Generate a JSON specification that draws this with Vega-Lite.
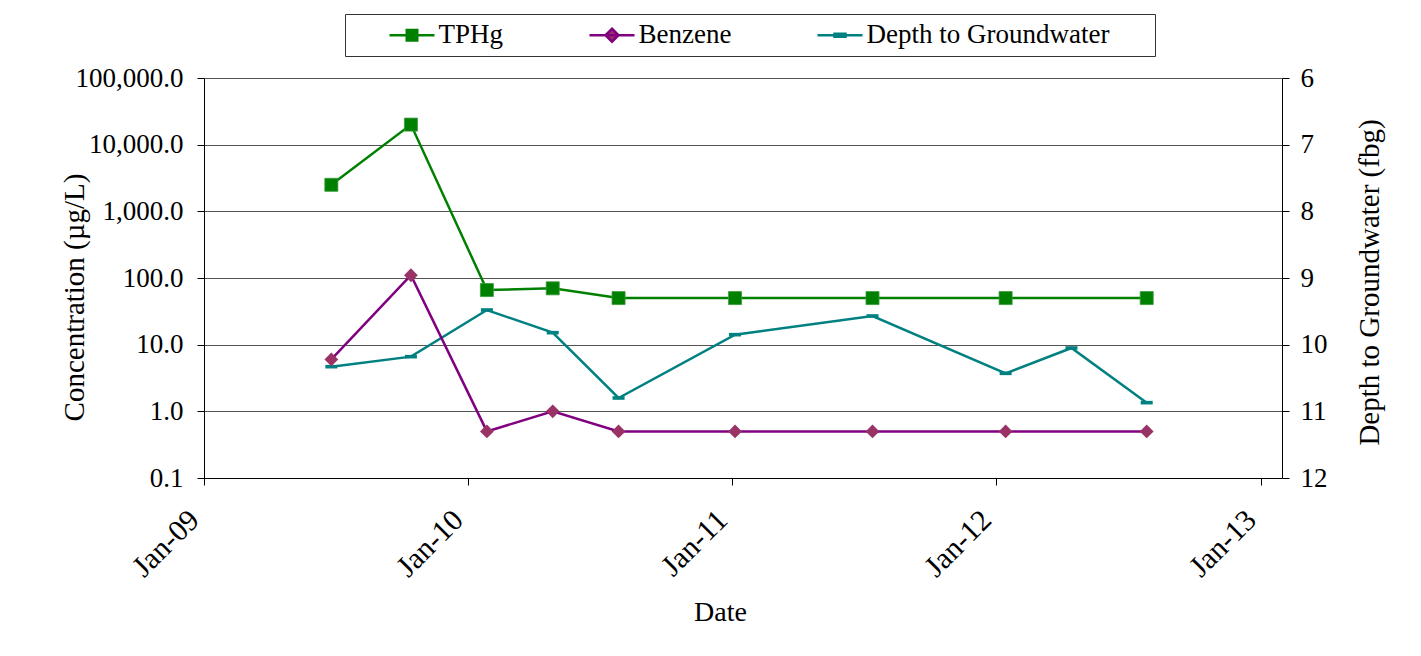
{
  "$schema": "https://vega.github.io/schema/vega-lite/v6.json",
  "width": 1078,
  "height": 400,
  "autosize": "none",
  "padding": {"left": 204, "top": 78, "right": 139, "bottom": 178},
  "background": "white",
  "config": {
    "font": "Liberation Serif",
    "view": {"stroke": null},
    "axis": {
      "domainColor": "#000000",
      "domainWidth": 1,
      "tickColor": "#000000",
      "tickSize": 7,
      "labelColor": "#000000",
      "titleColor": "#000000",
      "titleFontWeight": "normal",
      "labelFont": "Liberation Serif",
      "titleFont": "Liberation Serif"
    }
  },
  "data": {
    "values": [
      {"date": "2009-06-26", "series": "TPHg", "value": 2500},
      {"date": "2009-10-14", "series": "TPHg", "value": 20000},
      {"date": "2010-01-27", "series": "TPHg", "value": 66},
      {"date": "2010-04-28", "series": "TPHg", "value": 70},
      {"date": "2010-07-28", "series": "TPHg", "value": 50},
      {"date": "2011-01-05", "series": "TPHg", "value": 50},
      {"date": "2011-07-14", "series": "TPHg", "value": 50},
      {"date": "2012-01-14", "series": "TPHg", "value": 50},
      {"date": "2012-07-27", "series": "TPHg", "value": 50},
      {"date": "2009-06-26", "series": "Benzene", "value": 6},
      {"date": "2009-10-14", "series": "Benzene", "value": 110},
      {"date": "2010-01-27", "series": "Benzene", "value": 0.5},
      {"date": "2010-04-28", "series": "Benzene", "value": 1},
      {"date": "2010-07-28", "series": "Benzene", "value": 0.5},
      {"date": "2011-01-05", "series": "Benzene", "value": 0.5},
      {"date": "2011-07-14", "series": "Benzene", "value": 0.5},
      {"date": "2012-01-14", "series": "Benzene", "value": 0.5},
      {"date": "2012-07-27", "series": "Benzene", "value": 0.5},
      {"date": "2009-06-26", "series": "Depth to Groundwater", "value": 10.33},
      {"date": "2009-10-14", "series": "Depth to Groundwater", "value": 10.18},
      {"date": "2010-01-27", "series": "Depth to Groundwater", "value": 9.48},
      {"date": "2010-04-28", "series": "Depth to Groundwater", "value": 9.82},
      {"date": "2010-07-28", "series": "Depth to Groundwater", "value": 10.8},
      {"date": "2011-01-05", "series": "Depth to Groundwater", "value": 9.85},
      {"date": "2011-07-14", "series": "Depth to Groundwater", "value": 9.57},
      {"date": "2012-01-14", "series": "Depth to Groundwater", "value": 10.43},
      {"date": "2012-04-14", "series": "Depth to Groundwater", "value": 10.05},
      {"date": "2012-07-27", "series": "Depth to Groundwater", "value": 10.87}
    ]
  },
  "encoding": {
    "x": {
      "field": "date",
      "type": "temporal",
      "title": "Date",
      "scale": {
        "type": "utc",
        "domain": [
          {"year": 2009, "month": 1, "date": 1, "utc": true},
          {"year": 2013, "month": 1, "date": 30, "utc": true}
        ]
      },
      "axis": {
        "values": [
          {"year": 2009, "month": 1, "date": 1, "utc": true},
          {"year": 2010, "month": 1, "date": 1, "utc": true},
          {"year": 2011, "month": 1, "date": 1, "utc": true},
          {"year": 2012, "month": 1, "date": 1, "utc": true},
          {"year": 2013, "month": 1, "date": 1, "utc": true}
        ],
        "labelExpr": "utcFormat(datum.value, '%b-%y')",
        "grid": false,
        "labelAngle": -45,
        "labelAlign": "right",
        "labelBaseline": "middle",
        "labelFontSize": 30,
        "labelPadding": 30,
        "labelOffset": -10,
        "labelOverlap": false,
        "titleFontSize": 28,
        "titleX": 516,
        "titleY": 142,
        "titleBaseline": "alphabetic",
        "titleAlign": "center"
      }
    }
  },
  "layer": [
    {
      "encoding": {
        "y": {
          "field": "value",
          "type": "quantitative",
          "title": "Depth to Groundwater (fbg)",
          "scale": {"domain": [6, 12], "reverse": true, "zero": false, "nice": false},
          "axis": {
            "orient": "right",
            "values": [6, 7, 8, 9, 10, 11, 12],
            "format": "d",
            "grid": false,
            "labelFontSize": 27,
            "labelPadding": 11,
            "titleFontSize": 29,
            "titleAngle": 270,
            "titleX": 96,
            "titleY": 204,
            "titleAlign": "center",
            "titleBaseline": "alphabetic"
          }
        }
      },
      "transform": [{"filter": "datum.series === 'Depth to Groundwater'"}],
      "layer": [
        {
          "mark": {"type": "line", "color": "#008080", "strokeWidth": 2.5}
        },
        {
          "mark": {
            "type": "point",
            "shape": "M-1,-0.3H1V0.3H-1Z",
            "size": 144,
            "filled": true,
            "color": "#008080",
            "opacity": 1
          }
        }
      ]
    },
    {
      "encoding": {
        "y": {
          "field": "value",
          "type": "quantitative",
          "title": "Concentration (µg/L)",
          "scale": {"type": "log", "domain": [0.1, 100000], "nice": false},
          "axis": {
            "orient": "left",
            "values": [0.1, 1, 10, 100, 1000, 10000, 100000],
            "format": ",.1f",
            "grid": true,
            "gridColor": "#555555",
            "gridWidth": 1,
            "labelFontSize": 27,
            "labelPadding": 14,
            "titleFontSize": 29,
            "titleAngle": 270,
            "titleX": -121,
            "titleY": 219,
            "titleAlign": "center",
            "titleBaseline": "alphabetic"
          }
        }
      },
      "layer": [
        {
          "transform": [{"filter": "datum.series === 'Benzene'"}],
          "mark": {"type": "line", "color": "#800080", "strokeWidth": 2.5}
        },
        {
          "transform": [{"filter": "datum.series === 'Benzene'"}],
          "mark": {
            "type": "point",
            "shape": "diamond",
            "size": 190,
            "filled": true,
            "color": "#993366",
            "opacity": 1
          }
        },
        {
          "transform": [{"filter": "datum.series === 'TPHg'"}],
          "mark": {"type": "line", "color": "#008000", "strokeWidth": 2.5}
        },
        {
          "transform": [{"filter": "datum.series === 'TPHg'"}],
          "mark": {
            "type": "square",
            "size": 170,
            "color": "#008000",
            "stroke": "#3a9a3a",
            "strokeWidth": 0.8,
            "opacity": 1
          }
        },
        {
          "mark": {"type": "point", "filled": true, "opacity": 0, "strokeWidth": 2.5},
          "encoding": {
            "fill": {
              "field": "series",
              "type": "nominal",
              "scale": {
                "domain": ["TPHg", "Benzene", "Depth to Groundwater"],
                "range": ["#008000", "#993366", "#008080"]
              },
              "legend": null
            },
            "stroke": {
              "field": "series",
              "type": "nominal",
              "scale": {
                "domain": ["TPHg", "Benzene", "Depth to Groundwater"],
                "range": ["#008000", "#800080", "#008080"]
              },
              "legend": null
            },
            "shape": {
              "field": "series",
              "type": "nominal",
              "scale": {
                "domain": ["TPHg", "Benzene", "Depth to Groundwater"],
                "range": [
                  "M-4.5,0H4.5M-1.05,-1.05H1.05V1.05H-1.05Z",
                  "M-4.5,0H4.5M0,-1.3L1.3,0L0,1.3L-1.3,0Z",
                  "M60.4,0M-4.5,0H4.5M-1.1,-0.28H1.1V0.28H-1.1Z"
                ]
              },
              "legend": {
                "title": null,
                "orient": "none",
                "legendX": 141,
                "legendY": -64,
                "direction": "horizontal",
                "columns": 3,
                "symbolSize": 100,
                "symbolOpacity": 1,
                "symbolStrokeWidth": 2.5,
                "symbolOffset": 46,
                "labelFont": "Liberation Serif",
                "labelFontSize": 27,
                "labelColor": "#000000",
                "labelOffset": 13,
                "labelLimit": 400,
                "columnPadding": 49,
                "padding": 7.5,
                "strokeColor": "#333333",
                "fillColor": "#ffffff"
              }
            }
          }
        }
      ]
    }
  ],
  "resolve": {"scale": {"y": "independent"}}
}
